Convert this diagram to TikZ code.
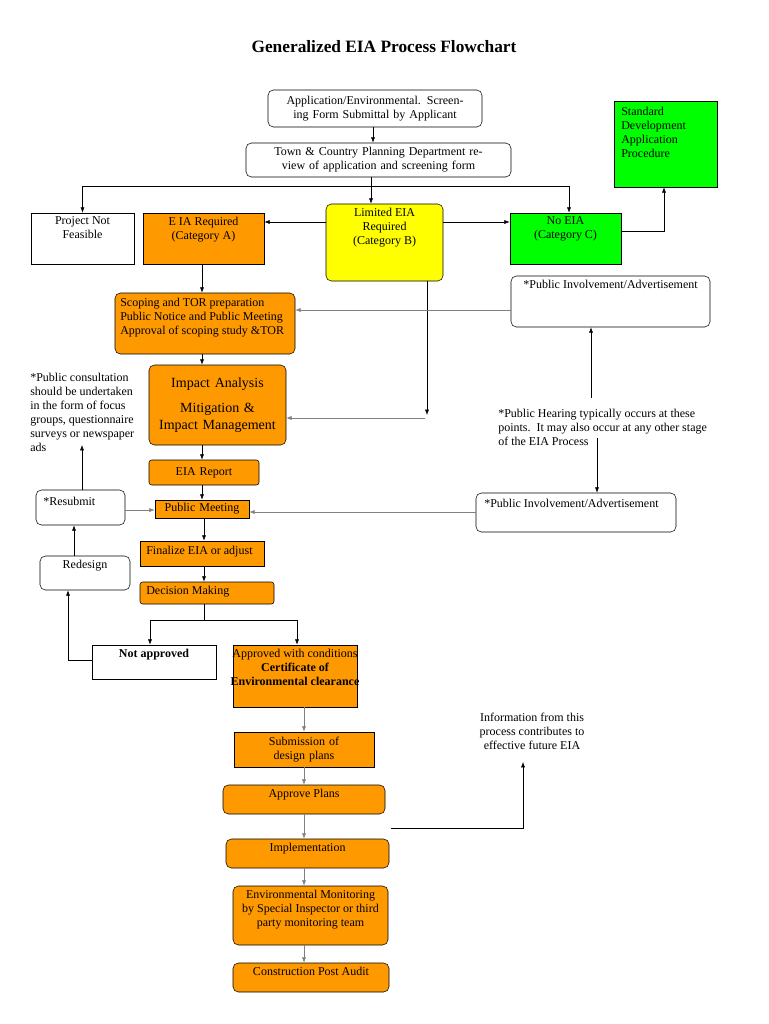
\documentclass[tikz,border=0pt]{standalone}
\usepackage{fontspec}
\setmainfont{Liberation Serif}
\usetikzlibrary{positioning,arrows.meta}
\definecolor{eiaorange}{HTML}{FF9900}
\definecolor{eiayellow}{HTML}{FFFF00}
\definecolor{eiagreen}{HTML}{00FF00}
\begin{document}
\begin{tikzpicture}[
            x=0.75pt, y=-0.75pt,
            every node/.style={font=\fontsize{9}{10.5}\selectfont},
            sz/.style 2 args={minimum width=#1*0.75pt, minimum height=#2*0.75pt, text width=#1*0.75pt-6pt, align=center, inner sep=2pt},
            box/.style={draw=black, thin},
            rbox/.style={draw=black, thin, rounded corners=4pt},
            orange_node/.style={fill=eiaorange},
            top_text/.style={label={[anchor=north, align=center, inner sep=3pt, font=\fontsize{9}{10.5}\selectfont]north:#1}},
            note/.style={align=left, inner sep=0pt, anchor=north west},
            arrow/.style={-{Latex[length=4pt,width=3pt]}, thin},
            grayarrow/.style={arrow, gray}
        ]
        \useasboundingbox (0,0) rectangle (768,1024);

        % Title
        \node[font=\fontsize{13}{15}\selectfont\bfseries] (title) at (384,47) {Generalized EIA Process Flowchart};

        % Screening
        \node[rbox, sz={214}{37}] (app) at (375,108.5) {Application/Environmental. Screening Form Submittal by Applicant};
        \node[rbox, sz={265}{34}] (town) at (378.5,160) {Town \& Country Planning Department review of application and screening form};
        \node[box, fill=eiagreen, sz={103}{86}] (std) at (665.5,144) {};
        \node[note] at (621,107) {Standard\\Development\\Application\\Procedure};

        % Categories
        \node[box, sz={103}{51}, top_text={Project Not\\Feasible}] (pnf) at (82.5,238.5) {};
        \node[box, orange_node, sz={121}{51}, top_text={E IA Required\\(Category A)}] (eiaA) at (203.5,238.5) {};
        \node[rbox, fill=eiayellow, sz={117}{77}, top_text={Limited EIA\\Required\\(Category B)}] (limB) at (384.5,242.5) {};
        \node[box, fill=eiagreen, sz={111}{51}, top_text={No EIA\\(Category C)}] (noEIA) at (565.5,238.5) {};

        % Public involvement
        \node[rbox, sz={199}{51}, top_text={*Public Involvement/Advertisement}] (pia1) at (610.5,301.5) {};
        \node[note] (hearing) at (498,409) {*Public Hearing typically occurs at these\\points.\ \ It may also occur at any other stage\\of the EIA Process};
        \node[rbox, sz={200}{39}] (pia2) at (576,512.5) {};
        \node[anchor=north west, inner sep=0pt] at (484,499) {*Public Involvement/Advertisement};
        \node[note] (consult) at (30,373) {*Public consultation\\should be undertaken\\in the form of focus\\groups, questionnaire\\surveys or newspaper\\ads};

        % EIA study
        \node[rbox, orange_node, sz={180}{61}] (scope) at (205,323.5) {};
        \node[note] at (120,298) {Scoping and TOR preparation\\Public Notice and Public Meeting\\Approval of scoping study \&TOR};
        \node[rbox, orange_node, sz={137}{80}, font=\fontsize{10.5}{13}\selectfont] (impact) at (217.5,405) {Impact Analysis\\[6pt]Mitigation \& Impact Management};
        \node[box, orange_node, rounded corners=2pt, sz={110}{25}] (report) at (204,472.5) {EIA Report};
        \node[box, orange_node, sz={94}{18}] (pubmeet) at (202,509) {Public Meeting};
        \node[rbox, sz={89}{35}] (resubmit) at (80.5,507.5) {};
        \node[anchor=north west, inner sep=0pt] at (43,497) {*Resubmit};
        \node[rbox, sz={90}{34}, top_text={Redesign}] (redesign) at (85,573) {};
        \node[box, orange_node, sz={124}{25}] (finalize) at (202,553.5) {};
        \node[anchor=west, inner sep=0pt] at (146,552) {Finalize EIA or adjust};
        \node[box, orange_node, rounded corners=2pt, sz={134}{22}] (decision) at (207,593) {};
        \node[anchor=west, inner sep=0pt] at (146,592) {Decision Making};

        % Decision
        \node[box, sz={124}{34}, top_text={\bfseries Not approved}] (notappr) at (154,662) {};
        \node[box, orange_node, sz={124}{62}, top_text={Approved with conditions\\\bfseries Certificate of\\\bfseries Environmental clearance}] (approved) at (295,676) {};

        % Follow-up
        \node[box, orange_node, sz={140}{35}] (submission) at (304,749.5) {Submission of design plans};
        \node[rbox, orange_node, sz={162}{29}, top_text={Approve Plans}] (approve) at (304,799.5) {};
        \node[rbox, orange_node, sz={163}{29}, top_text={Implementation}] (impl) at (307.5,853.5) {};
        \node[rbox, orange_node, sz={155}{59}, top_text={Environmental Monitoring\\by Special Inspector or third\\party monitoring team}] (envmon) at (310.5,915.5) {};
        \node[rbox, orange_node, sz={156}{29}, top_text={Construction Post Audit}] (audit) at (311,977.5) {};
        \node[align=center, inner sep=0pt] (info) at (532,731) {Information from this\\process contributes to\\effective future EIA};

        \coordinate (split) at (371,186);
        \coordinate (limBend) at (427,415);
        \coordinate (infostart) at (391,828);
        \coordinate (decsplit) at (204,620);

        % Screening edges
        \draw[arrow] (app.south -| 373,0) -- (town.north -| 373,0);
        \draw[arrow] (town.south -| split) -- (limB.north -| split);
        \draw[arrow] (split) -| (pnf.north);
        \draw[arrow] (split) -| (noEIA.north -| 569,0);
        \draw[arrow] (limB.west |- 0,222) -- (eiaA.east |- 0,222);
        \draw[arrow] (limB.east |- 0,222) -- (noEIA.west |- 0,222);
        \draw[arrow] (noEIA.east |- 0,231) -| (std.south -| 664,0);
        \draw[arrow] (eiaA.south -| 202,0) -- (scope.north -| 202,0);
        \draw[arrow] (limB.south -| limBend) -- (limBend);
        \draw[grayarrow] (425,418) -- (impact.east |- 0,418);

        % Public involvement edges
        \draw[grayarrow] (pia1.west |- 0,310) -- (scope.east |- 0,310);
        \draw[arrow] (591,398) -- (pia1.south -| 591,0);
        \draw[arrow] (597,438) -- (pia2.north -| 597,0);
        \draw[grayarrow] (pia2.west |- 0,512) -- (pubmeet.east |- 0,512);
        \draw[grayarrow] (resubmit.east |- 0,510) -- (pubmeet.west |- 0,510);
        \draw[arrow] (resubmit.north -| 82,0) -- (82,445);
        \draw[arrow] (redesign.north -| 74,0) -- (resubmit.south -| 74,0);
        \draw[arrow] (notappr.west |- 0,660) -| (redesign.south -| 68,0);

        % Study edges
        \draw[arrow] (scope.south -| 202,0) -- (impact.north -| 202,0);
        \draw[arrow] (impact.south -| 202,0) -- (report.north -| 202,0);
        \draw[arrow] (report.south -| 202,0) -- (pubmeet.north -| 202,0);
        \draw[arrow] (pubmeet.south -| 204,0) -- (finalize.north -| 204,0);
        \draw[arrow] (finalize.south -| 204,0) -- (decision.north -| 204,0);
        \draw[thin] (decision.south -| decsplit) -- (decsplit);
        \draw[arrow] (decsplit) -| (notappr.north -| 150,0);
        \draw[arrow] (decsplit) -| (approved.north -| 297,0);

        % Follow-up edges
        \draw[grayarrow] (approved.south -| 304,0) -- (submission.north -| 304,0);
        \draw[grayarrow] (submission.south -| 304,0) -- (approve.north -| 304,0);
        \draw[grayarrow] (approve.south -| 304,0) -- (impl.north -| 304,0);
        \draw[grayarrow] (impl.south -| 304,0) -- (envmon.north -| 304,0);
        \draw[grayarrow] (envmon.south -| 304,0) -- (audit.north -| 304,0);
        \draw[arrow] (infostart) -| (523,762);

    \end{tikzpicture}
\end{document}
